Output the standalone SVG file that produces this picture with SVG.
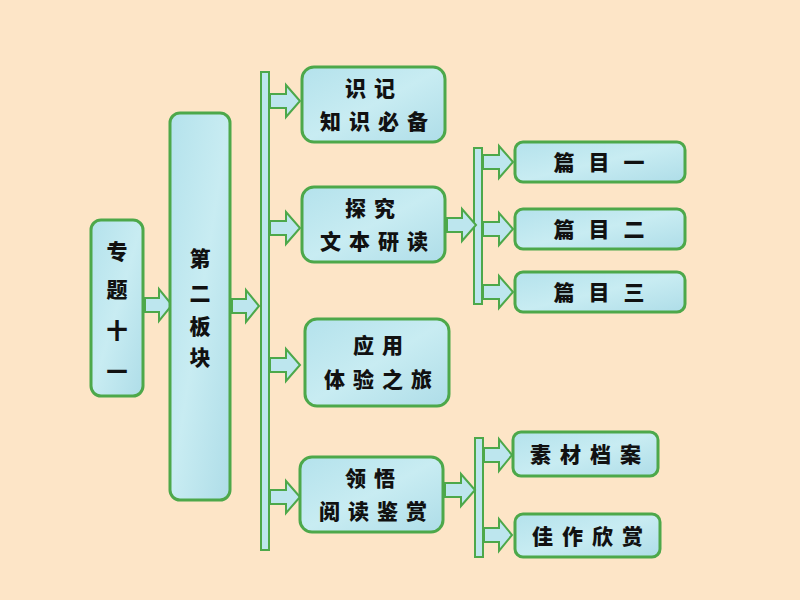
<svg xmlns="http://www.w3.org/2000/svg" width="800" height="600" viewBox="0 0 800 600">
<defs>
<linearGradient id="water" x1="0" y1="0" x2="1" y2="1">
<stop offset="0" stop-color="#B4E2EC"/>
<stop offset="0.5" stop-color="#C8ECF2"/>
<stop offset="1" stop-color="#AEDDE8"/>
</linearGradient>
<style>
.box{fill:url(#water);stroke:#4DA84A;stroke-width:3}
.bar{fill:#BDE6EE;stroke:#4DA84A;stroke-width:2}
.arr{fill:#BDE6EE;stroke:#4DA84A;stroke-width:2;stroke-linejoin:miter}
.t{font-family:"Noto Sans CJK SC","Noto Sans CJK JP",sans-serif;font-weight:900;font-size:21px;fill:#111;text-anchor:middle}
</style>
</defs>
<rect width="800" height="600" fill="#FDE5C7"/>
<g id="connectors">
<rect class="bar" x="261" y="72" width="8" height="478"/>
<rect class="bar" x="474" y="148" width="8" height="156"/>
<rect class="bar" x="475" y="438" width="8" height="119"/>
<path class="arr" d="M145,298 h14 v-9 l13,16 l-13,16 v-9 h-14 z"/>
<path class="arr" d="M232,299 h14 v-9 l13,16 l-13,16 v-9 h-14 z"/>
<path class="arr" d="M270,94 h16 v-9 l14,16 l-14,16 v-9 h-16 z"/>
<path class="arr" d="M270,221 h16 v-9 l14,16 l-14,16 v-9 h-16 z"/>
<path class="arr" d="M270,358 h16 v-9 l14,16 l-14,16 v-9 h-16 z"/>
<path class="arr" d="M270,490 h16 v-9 l14,16 l-14,16 v-9 h-16 z"/>
<path class="arr" d="M447,218 h15 v-9 l14,16 l-14,16 v-9 h-15 z"/>
<path class="arr" d="M483,155 h16 v-9 l14,16 l-14,16 v-9 h-16 z"/>
<path class="arr" d="M483,222 h16 v-9 l14,16 l-14,16 v-9 h-16 z"/>
<path class="arr" d="M483,285 h16 v-9 l14,16 l-14,16 v-9 h-16 z"/>
<path class="arr" d="M445,483 h16 v-9 l14,16 l-14,16 v-9 h-16 z"/>
<path class="arr" d="M484,448 h15 v-9 l13,16 l-13,16 v-9 h-15 z"/>
<path class="arr" d="M484,528 h15 v-9 l13,16 l-13,16 v-9 h-15 z"/>
</g>
<g id="n1"><rect class="box" x="91" y="220" width="52" height="176" rx="10"/>
<text class="t" x="117" y="259">专</text><text class="t" x="117" y="297">题</text><text class="t" x="117" y="338">十</text><text class="t" x="117" y="379">一</text></g>
<g id="n2"><rect class="box" x="170" y="113" width="60" height="387" rx="10"/>
<text class="t" x="200" y="266">第</text><text class="t" x="200" y="301">二</text><text class="t" x="200" y="334">板</text><text class="t" x="200" y="365">块</text></g>
<g id="n3"><rect class="box" x="302" y="67" width="143" height="75" rx="12"/>
<text class="t" x="374" y="96" letter-spacing="8">识记</text><text class="t" x="378" y="129" letter-spacing="8">知识必备</text></g>
<g id="n4"><rect class="box" x="302" y="187" width="143" height="75" rx="12"/>
<text class="t" x="374" y="216" letter-spacing="8">探究</text><text class="t" x="378" y="249" letter-spacing="8">文本研读</text></g>
<g id="n5"><rect class="box" x="305" y="319" width="144" height="87" rx="12"/>
<text class="t" x="382" y="353" letter-spacing="8">应用</text><text class="t" x="382" y="387" letter-spacing="8">体验之旅</text></g>
<g id="n6"><rect class="box" x="300" y="457" width="143" height="75" rx="12"/>
<text class="t" x="374" y="486" letter-spacing="8">领悟</text><text class="t" x="377" y="519" letter-spacing="8">阅读鉴赏</text></g>
<g id="n7"><rect class="box" x="515" y="142" width="170" height="40" rx="8"/>
<text class="t" x="606" y="170" letter-spacing="14">篇目一</text></g>
<g id="n8"><rect class="box" x="515" y="209" width="170" height="40" rx="8"/>
<text class="t" x="606" y="237" letter-spacing="14">篇目二</text></g>
<g id="n9"><rect class="box" x="515" y="272" width="170" height="40" rx="8"/>
<text class="t" x="606" y="300" letter-spacing="14">篇目三</text></g>
<g id="n10"><rect class="box" x="513" y="432" width="145" height="44" rx="8"/>
<text class="t" x="590" y="462" letter-spacing="9">素材档案</text></g>
<g id="n11"><rect class="box" x="515" y="514" width="145" height="43" rx="8"/>
<text class="t" x="592" y="544" letter-spacing="9">佳作欣赏</text></g>
</svg>
